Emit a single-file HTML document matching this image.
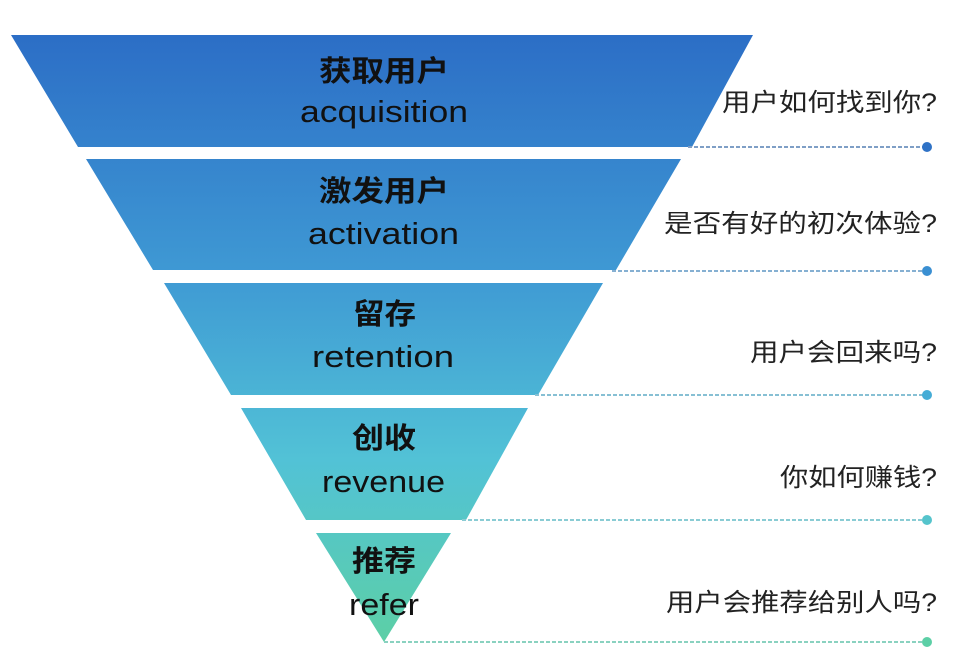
<!DOCTYPE html>
<html><head><meta charset="utf-8"><style>
html,body{margin:0;padding:0;background:#fff;width:972px;height:654px;overflow:hidden}
svg text{font-family:"Liberation Sans","Noto Sans CJK SC",sans-serif}
</style></head><body>
<svg width="972" height="654" viewBox="0 0 972 654" xmlns="http://www.w3.org/2000/svg">
<defs>
<linearGradient id="g" x1="0" y1="35" x2="0" y2="642" gradientUnits="userSpaceOnUse">
<stop offset="0" stop-color="#2c6ec6"/>
<stop offset="0.4" stop-color="#3f9ad4"/>
<stop offset="0.7" stop-color="#52c2d6"/>
<stop offset="1" stop-color="#5ccfa6"/>
</linearGradient>
</defs>
<polygon points="11,35 753,35 692,147 78,147" fill="url(#g)"/>
<polygon points="86,159 681,159 616,270 153,270" fill="url(#g)"/>
<polygon points="164,283 603,283 538,395 231,395" fill="url(#g)"/>
<polygon points="241,408 528,408 466,520 306,520" fill="url(#g)"/>
<polygon points="316,533 451,533 384,642" fill="url(#g)"/>
<g stroke-width="2" stroke-dasharray="4,2" fill="none">
<line x1="688" y1="147" x2="927" y2="147" stroke="#7f9fc6"/>
<line x1="612" y1="271" x2="927" y2="271" stroke="#86b0d2"/>
<line x1="535" y1="395" x2="927" y2="395" stroke="#87c0d4"/>
<line x1="462" y1="520" x2="927" y2="520" stroke="#8accd4"/>
<line x1="384" y1="642" x2="927" y2="642" stroke="#8ad2c0"/>
</g>
<circle cx="927" cy="147" r="5" fill="#2f72c6"/>
<circle cx="927" cy="271" r="5" fill="#3a8fd2"/>
<circle cx="927" cy="395" r="5" fill="#45acd6"/>
<circle cx="927" cy="520" r="5" fill="#55c4cc"/>
<circle cx="927" cy="642" r="5" fill="#5ccfa6"/>
<g fill="#111" lengthAdjust="spacingAndGlyphs">
<text x="319" y="81" font-size="29" font-weight="bold" textLength="130" lengthAdjust="spacingAndGlyphs">获取用户</text>
<text x="300" y="122" font-size="31" textLength="168" lengthAdjust="spacingAndGlyphs">acquisition</text>
<text x="319" y="201" font-size="29" font-weight="bold" textLength="130" lengthAdjust="spacingAndGlyphs">激发用户</text>
<text x="308" y="244" font-size="31" textLength="151" lengthAdjust="spacingAndGlyphs">activation</text>
<text x="353" y="324" font-size="29" font-weight="bold" textLength="63" lengthAdjust="spacingAndGlyphs">留存</text>
<text x="312" y="367" font-size="31" textLength="142" lengthAdjust="spacingAndGlyphs">retention</text>
<text x="352" y="448" font-size="29" font-weight="bold" textLength="64" lengthAdjust="spacingAndGlyphs">创收</text>
<text x="322" y="492" font-size="31" textLength="123" lengthAdjust="spacingAndGlyphs">revenue</text>
<text x="352" y="571" font-size="29" font-weight="bold" textLength="64" lengthAdjust="spacingAndGlyphs">推荐</text>
<text x="349" y="615" font-size="31" textLength="70" lengthAdjust="spacingAndGlyphs">refer</text>
</g>
<g fill="#222" font-size="25">
<text x="722" y="111" textLength="215" lengthAdjust="spacingAndGlyphs">用户如何找到你?</text>
<text x="664" y="232" textLength="273" lengthAdjust="spacingAndGlyphs">是否有好的初次体验?</text>
<text x="750" y="361" textLength="187" lengthAdjust="spacingAndGlyphs">用户会回来吗?</text>
<text x="780" y="486" textLength="157" lengthAdjust="spacingAndGlyphs">你如何赚钱?</text>
<text x="666" y="611" textLength="271" lengthAdjust="spacingAndGlyphs">用户会推荐给别人吗?</text>
</g>
</svg>
</body></html>
